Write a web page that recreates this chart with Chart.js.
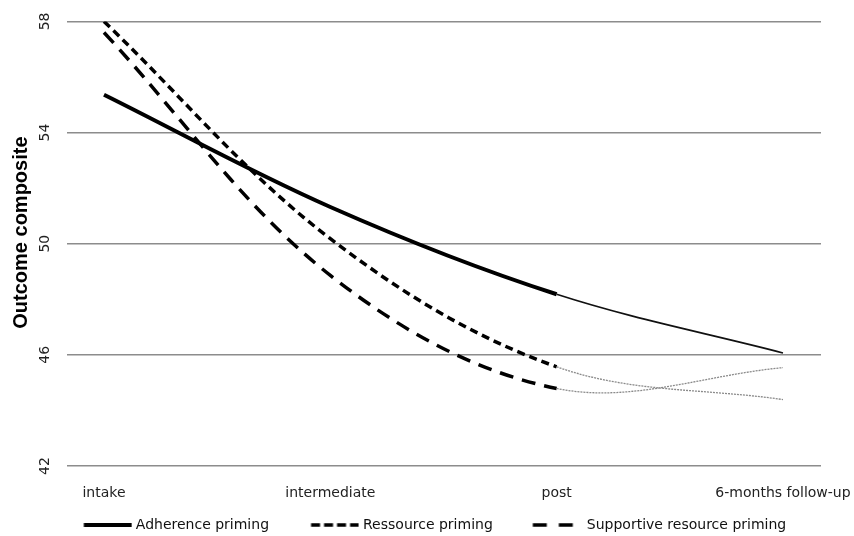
<!DOCTYPE html>
<html><head><meta charset="utf-8">
<script src="https://cdn.jsdelivr.net/npm/chart.js@4.4.1/dist/chart.umd.min.js"></script>
<style>html,body{margin:0;padding:0;background:#fff}#wrap{width:854px;height:536px}</style>
</head><body><div id="wrap"><canvas id="c" width="854" height="536"></canvas></div>
<script>
// ---- data ----
const categories = ['intake', 'intermediate', 'post', '6-months follow-up'];
const seriesNames = ['Adherence priming', 'Ressource priming', 'Supportive resource priming'];
const adherence  = [55.36, 51.32, 48.18, 46.07];
const ressource  = [58.00, 50.18, 45.57, 44.39];
const supportive = [57.60, 48.86, 44.79, 45.54];
const yTicks = [42, 46, 50, 54, 58];
const yTitle = 'Outcome composite';

function toPoints(vals) { return vals.map((v, i) => ({x: i, y: v})); }

function legendImg(dash, x0, x1, W, lw) {
  const c = document.createElement('canvas');
  c.width = W; c.height = 8;
  const g = c.getContext('2d');
  g.strokeStyle = '#000'; g.lineWidth = lw; g.setLineDash(dash);
  g.beginPath(); g.moveTo(x0, 4); g.lineTo(x1, 4); g.stroke();
  return c;
}
const legendImgs = [
  legendImg([], 35.5, 83.5, 84, 4),
  legendImg([9, 4], 35.5, 83, 84, 3.5),
  legendImg([14, 12], 33.5, 73.5, 84, 3.5)
];

const afterPost = (ctx) => ctx.p0DataIndex >= 2;
function mkSet(label, vals, dash, idx) {
  return {
    label, data: toPoints(vals),
    borderColor: '#000', borderWidth: idx === 0 ? 4 : 3.5, borderDash: dash,
    pointRadius: 0, tension: 0.35, fill: false, borderCapStyle: 'butt',
    segment: {
      borderWidth: ctx => afterPost(ctx) ? (idx === 0 ? 1.6 : 1.3) : undefined,
      borderDash: ctx => afterPost(ctx) ? (idx === 0 ? [] : [2, 1]) : undefined,
      borderColor: ctx => afterPost(ctx) ? (idx === 0 ? '#111' : '#8a8a8a') : undefined
    }
  };
}

new Chart(document.getElementById('c'), {
  type: 'line',
  data: {
    datasets: [
      mkSet(seriesNames[0], adherence, [], 0),
      mkSet(seriesNames[1], ressource, [8, 5], 1),
      mkSet(seriesNames[2], supportive, [14, 9], 2)
    ]
  },
  options: {
    responsive: false, animation: false, devicePixelRatio: 1,
    layout: {padding: {left: 0, right: 16, top: 19, bottom: 0}},
    scales: {
      x: {
        type: 'linear', min: -0.1635, max: 3.168,
        grid: {display: false}, border: {display: false},
        afterBuildTicks: s => { s.ticks = categories.map((c, i) => ({value: i})); },
        afterFit: s => { s.height = 42; s.paddingLeft = 0; s.paddingRight = 0; },
        ticks: {
          callback: v => categories[v],
          font: {family: 'DejaVu Sans', size: 14}, color: '#222', padding: 11,
          maxRotation: 0, autoSkip: false
        }
      },
      y: {
        min: 42, max: 58,
        afterBuildTicks: s => { s.ticks = yTicks.map(v => ({value: v})); },
        afterFit: s => { s.width = 67; },
        grid: {color: '#8c8c8c', lineWidth: 1.5, drawTicks: false},
        border: {display: false},
        ticks: {
          minRotation: 90, maxRotation: 90, crossAlign: 'center', padding: 13,
          font: {family: 'DejaVu Sans', size: 14}, color: '#222'
        },
        title: {
          display: true, text: '    ' + yTitle, color: '#000',
          font: {family: 'Liberation Sans', size: 20, weight: 'bold'},
          padding: {top: 9, bottom: 0}
        }
      },
      yRight: {
        position: 'right', display: true,
        grid: {display: false}, border: {display: false},
        ticks: {display: false},
        afterFit: s => { s.width = 17; }
      }
    },
    plugins: {
      tooltip: {enabled: false},
      legend: {
        position: 'bottom', maxHeight: 28,
        labels: {
          usePointStyle: true, pointStyleWidth: 77, boxHeight: 14,
          font: {family: 'DejaVu Sans', size: 14}, color: '#111', padding: 10,
          generateLabels: chart => chart.data.datasets.map((d, i) => ({
            text: d.label, pointStyle: legendImgs[i], fillStyle: '#000',
            strokeStyle: '#000', lineWidth: 0, hidden: false, datasetIndex: i, fontColor: '#111'
          }))
        }
      }
    }
  }
});
</script></body></html>
